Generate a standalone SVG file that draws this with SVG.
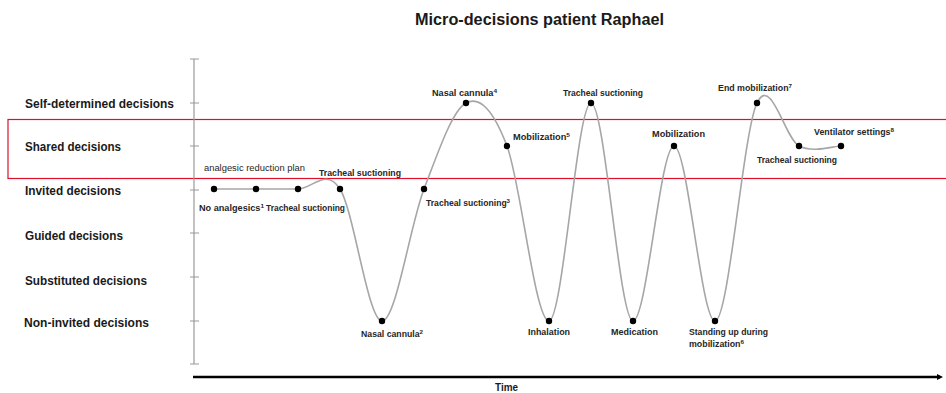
<svg xmlns="http://www.w3.org/2000/svg" width="946" height="393" viewBox="0 0 946 393">
<style>
.t{font-family:"Liberation Sans",Arial,sans-serif;font-weight:bold;fill:#1a1a1a}
.lvl{font-size:12px}
.lab{font-size:8.5px;fill:#262626}
.reg{font-weight:normal}
.sup{font-size:6px}
.ax{stroke:#9a9a9a;stroke-width:1.2;fill:none}
.curve{stroke:#a6a6a6;stroke-width:1.6;fill:none}
.dot{fill:#000}
</style>
<defs>
<marker id="arr" viewBox="0 0 6 6" refX="3" refY="3" markerWidth="2.4" markerHeight="2.4" orient="auto" markerUnits="strokeWidth">
<path d="M0,0 L6,3 L0,6 z" fill="#000"/>
</marker>
</defs>
<rect width="946" height="393" fill="#fff"/>
<text class="t" x="415" y="25" font-size="16" textLength="249" lengthAdjust="spacingAndGlyphs">Micro-decisions patient Raphael</text>

<g id="band">
<rect x="8" y="119.5" width="950" height="59" fill="none" stroke="#e0102a" stroke-width="1.2"/>
</g>

<g id="axes">
<path class="ax" d="M194,59 V364 M190,59 H199 M190,103 H199 M190,146 H199 M190,190 H199 M190,233 H199 M190,277 H199 M190,321 H199 M190,364 H199"/>
<line x1="193" y1="377" x2="940" y2="377" stroke="#000" stroke-width="2.5" marker-end="url(#arr)"/>
<text class="t" x="495" y="391" font-size="10" textLength="23" lengthAdjust="spacingAndGlyphs">Time</text>
</g>

<g id="levels">
<text class="t lvl" x="25" y="108" textLength="149" lengthAdjust="spacingAndGlyphs">Self-determined decisions</text>
<text class="t lvl" x="25" y="151" textLength="96" lengthAdjust="spacingAndGlyphs">Shared decisions</text>
<text class="t lvl" x="25" y="195" textLength="96" lengthAdjust="spacingAndGlyphs">Invited decisions</text>
<text class="t lvl" x="25" y="240" textLength="98" lengthAdjust="spacingAndGlyphs">Guided decisions</text>
<text class="t lvl" x="25" y="285" textLength="122" lengthAdjust="spacingAndGlyphs">Substituted decisions</text>
<text class="t lvl" x="24" y="327" textLength="125" lengthAdjust="spacingAndGlyphs">Non-invited decisions</text>
</g>

<g id="connectors">
<path class="curve" d="M214,189 C221,189 242,189 256,189 C270,189 284,189 298,189 C312,189 326,167 340,189 C354,211 368,321 382,321 C396,321 410,225.3 424,189 C438,152.7 452.2,110.2 466,103 C479.8,95.8 493.2,109.7 507,146 C520.8,182.3 535,321 549,321 C563,321 577,103 591,103 C605,103 619.2,321 633,321 C646.8,321 660.3,146 674,146 C687.7,146 701.2,321 715,321 C728.8,321 743,132.2 757,103 C771,73.8 785,138.8 799,146 C813,153.2 834,146 841,146"/>
</g>

<g id="n1"><circle class="dot" cx="214" cy="189" r="3.2"/><text class="t lab" x="199" y="211" textLength="65" lengthAdjust="spacingAndGlyphs">No analgesics<tspan class="sup" dy="-3">1</tspan></text></g>
<g id="n2"><circle class="dot" cx="256" cy="189" r="3.2"/><text class="t lab reg" x="204" y="171" textLength="101" lengthAdjust="spacingAndGlyphs">analgesic reduction plan</text></g>
<g id="n3"><circle class="dot" cx="298" cy="189" r="3.2"/><text class="t lab" x="266" y="211" textLength="79" lengthAdjust="spacingAndGlyphs">Tracheal suctioning</text></g>
<g id="n4"><circle class="dot" cx="340" cy="189" r="3.2"/><text class="t lab" x="319" y="176" textLength="82" lengthAdjust="spacingAndGlyphs">Tracheal suctioning</text></g>
<g id="n5"><circle class="dot" cx="382" cy="321" r="3.2"/><text class="t lab" x="361" y="337" textLength="62" lengthAdjust="spacingAndGlyphs">Nasal cannula<tspan class="sup" dy="-3">2</tspan></text></g>
<g id="n6"><circle class="dot" cx="424" cy="189" r="3.2"/><text class="t lab" x="426" y="206" textLength="84" lengthAdjust="spacingAndGlyphs">Tracheal suctioning<tspan class="sup" dy="-3">3</tspan></text></g>
<g id="n7"><circle class="dot" cx="466" cy="103" r="3.2"/><text class="t lab" x="432" y="96" textLength="65" lengthAdjust="spacingAndGlyphs">Nasal cannula<tspan class="sup" dy="-3">4</tspan></text></g>
<g id="n8"><circle class="dot" cx="507" cy="146" r="3.2"/><text class="t lab" x="513" y="140" textLength="57" lengthAdjust="spacingAndGlyphs">Mobilization<tspan class="sup" dy="-3">5</tspan></text></g>
<g id="n9"><circle class="dot" cx="549" cy="321" r="3.2"/><text class="t lab" x="528" y="335" textLength="42" lengthAdjust="spacingAndGlyphs">Inhalation</text></g>
<g id="n10"><circle class="dot" cx="591" cy="103" r="3.2"/><text class="t lab" x="563" y="96" textLength="80" lengthAdjust="spacingAndGlyphs">Tracheal suctioning</text></g>
<g id="n11"><circle class="dot" cx="633" cy="321" r="3.2"/><text class="t lab" x="611" y="335" textLength="47" lengthAdjust="spacingAndGlyphs">Medication</text></g>
<g id="n12"><circle class="dot" cx="674" cy="146" r="3.2"/><text class="t lab" x="652" y="137" textLength="53" lengthAdjust="spacingAndGlyphs">Mobilization</text></g>
<g id="n13"><circle class="dot" cx="715" cy="321" r="3.2"/><text class="t lab" x="689" y="335" textLength="79" lengthAdjust="spacingAndGlyphs">Standing up during</text><text class="t lab" x="689" y="347" textLength="55" lengthAdjust="spacingAndGlyphs">mobilization<tspan class="sup" dy="-3">6</tspan></text></g>
<g id="n14"><circle class="dot" cx="757" cy="103" r="3.2"/><text class="t lab" x="718" y="91" textLength="74" lengthAdjust="spacingAndGlyphs">End mobilization<tspan class="sup" dy="-3">7</tspan></text></g>
<g id="n15"><circle class="dot" cx="799" cy="146" r="3.2"/><text class="t lab" x="757" y="163" textLength="80" lengthAdjust="spacingAndGlyphs">Tracheal suctioning</text></g>
<g id="n16"><circle class="dot" cx="841" cy="146" r="3.2"/><text class="t lab" x="814" y="135" textLength="80" lengthAdjust="spacingAndGlyphs">Ventilator settings<tspan class="sup" dy="-3">8</tspan></text></g>
</svg>
